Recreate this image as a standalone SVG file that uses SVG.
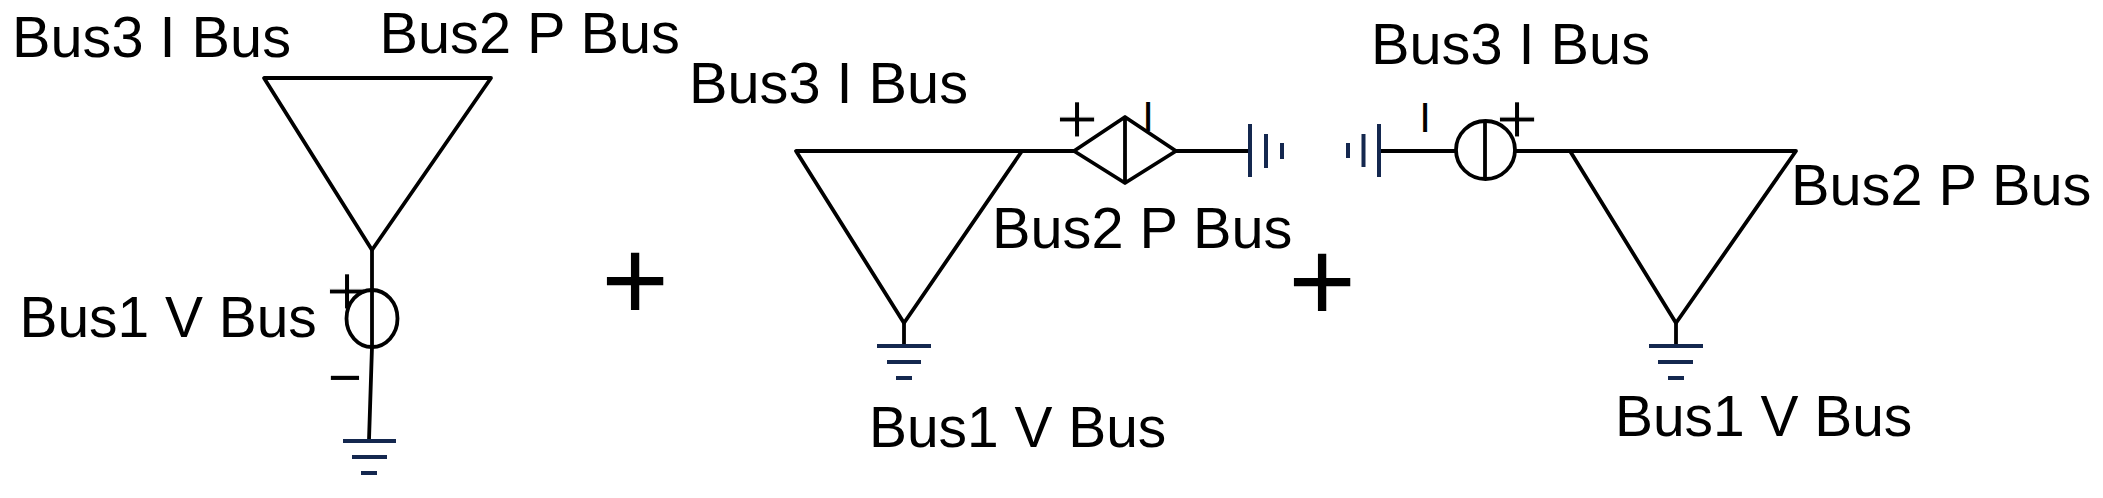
<svg xmlns="http://www.w3.org/2000/svg" width="2103" height="498" viewBox="0 0 2103 498">
<style>
text{font-family:"Liberation Sans",Arial,sans-serif;fill:#000}
.lbl{font-size:57.700px}
.lbv{font-size:56.900px}
.big{font-size:116px;text-anchor:middle}
.sm{font-size:73px;text-anchor:middle;stroke:#fff;stroke-width:1.200px}
.i{font-size:42px;text-anchor:middle}
.w{fill:none;stroke:#000;stroke-width:3.800;stroke-linejoin:round}
.g{fill:none;stroke:#14284f;stroke-width:4}
</style>
<rect width="2103" height="498" fill="#fff"/>
<g id="connectors">
<path class="w" d="M372 250V347L369 440"/>
<path class="w" d="M1022 151H1074"/>
<path class="w" d="M1176 151H1249"/>
<path class="w" d="M904 323V346"/>
<path class="w" d="M1379 151H1456"/>
<path class="w" d="M1515 151H1570"/>
<path class="w" d="M1676 323V346"/>
</g>
<g id="circuit1">
<g id="triangle1"><path class="w" d="M264 78H491L372 250Z"/></g>
<g id="source1"><text class="sm" x="347" y="315">+</text><ellipse class="w" cx="372" cy="318.500" rx="25.500" ry="28.500"/>
<text x="345" y="397" font-size="58" text-anchor="middle">−</text></g>
<g id="ground1"><path class="g" d="M343 441H396M352 457H387M361 473H377"/></g>
<text id="c1-bus3" class="lbl" x="12" y="57">Bus3 I Bus</text>
<text id="c1-bus2" class="lbl" x="379.500" y="53">Bus2 P Bus</text>
<text id="c1-bus1" class="lbv" x="19.500" y="337">Bus1 V Bus</text>
</g>
<g id="plus1"><text class="big" x="635" y="320">+</text></g>
<g id="circuit2">
<g id="triangle2"><path class="w" d="M796 151H1022L904 323Z"/></g>
<g id="source2"><text class="sm" x="1077" y="143">+</text><path class="w" d="M1074 151L1125 117L1176 151L1125 183ZM1125 117V183"/>
<text class="i" x="1148" y="131">I</text></g>
<g id="ground2a"><path class="g" d="M1250 124V177M1266 134V168M1282 143V159"/></g>
<g id="ground2b"><path class="g" d="M877 346H931M887 362H921M896 378H912"/></g>
<text id="c2-bus3" class="lbl" x="689" y="102.500">Bus3 I Bus</text>
<text id="c2-bus2" class="lbl" x="992" y="248">Bus2 P Bus</text>
<text id="c2-bus1" class="lbv" x="869" y="447">Bus1 V Bus</text>
</g>
<g id="plus2"><text class="big" x="1322" y="321">+</text></g>
<g id="circuit3">
<g id="triangle3"><path class="w" d="M1570 151H1796L1676 323Z"/></g>
<g id="source3"><text class="sm" x="1517" y="143">+</text><ellipse class="w" cx="1485.500" cy="150" rx="29.500" ry="29"/><path class="w" d="M1485 121V179"/>
<text class="i" x="1425" y="132">I</text></g>
<g id="ground3a"><path class="g" d="M1379 124V177M1363.500 134V167M1348 143V158"/></g>
<g id="ground3b"><path class="g" d="M1649 346H1703M1658 362H1693M1668 378H1684"/></g>
<text id="c3-bus3" class="lbl" x="1371" y="64">Bus3 I Bus</text>
<text id="c3-bus2" class="lbl" x="1791" y="205">Bus2 P Bus</text>
<text id="c3-bus1" class="lbv" x="1615" y="436">Bus1 V Bus</text>
</g>
</svg>
